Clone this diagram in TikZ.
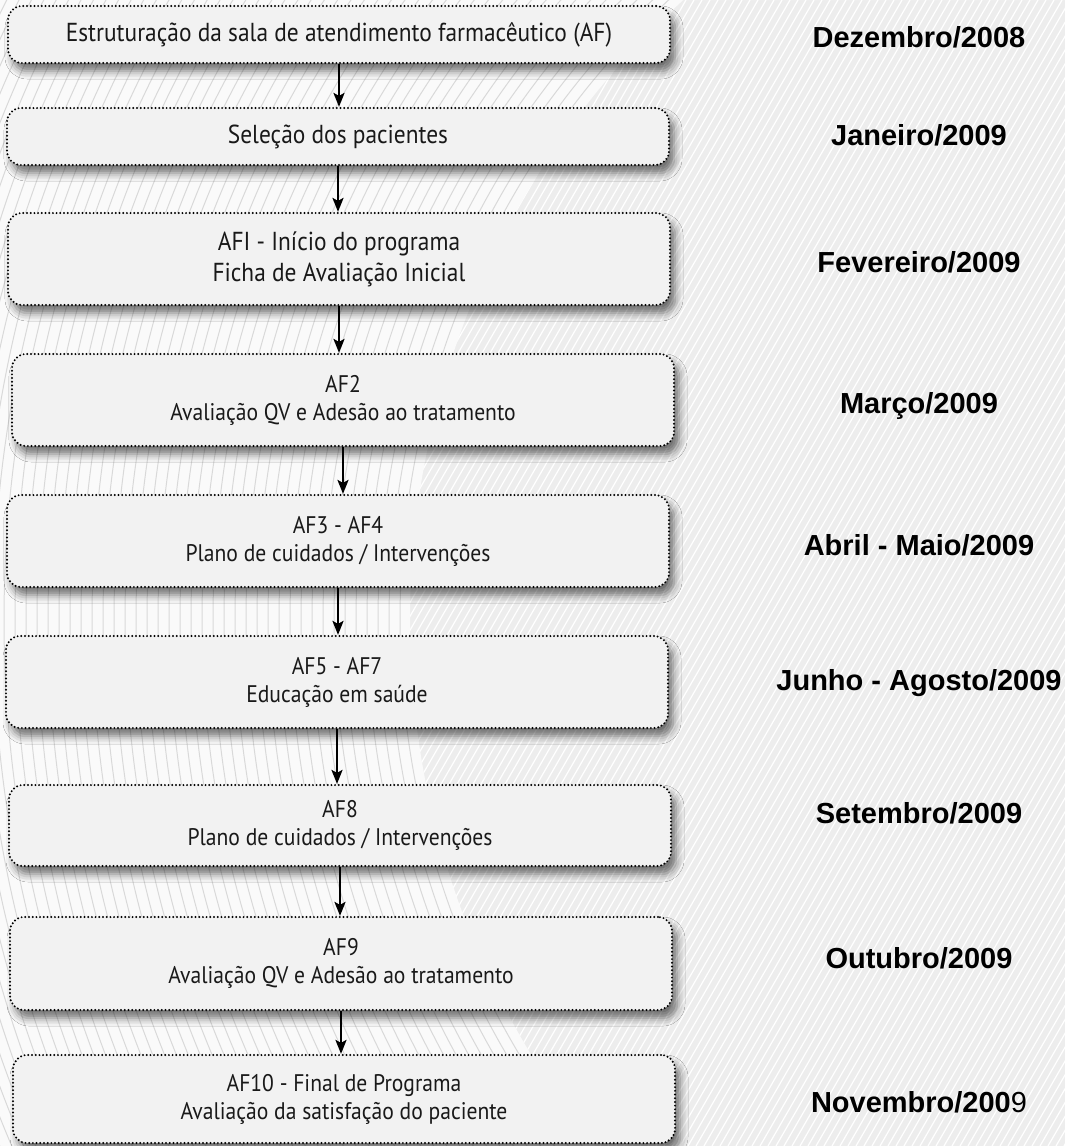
\documentclass[tikz,border=0pt]{standalone}
\usepackage{fontspec}
\setmainfont{PT Sans}[FakeStretch=0.9]
\newfontfamily\datefont{Liberation Sans}
\usetikzlibrary{arrows.meta,shadows.blur,positioning}
\definecolor{boxgray}{HTML}{F2F2F2}
\definecolor{bggray}{HTML}{EDEDED}
\tikzset{
  stage/.style={draw=black,line width=2.2pt,dash pattern=on 0pt off 3.7pt,line cap=round,
    rounded corners=14pt,fill=boxgray,minimum width=662pt,align=center,text=black!90,
    font=\fontsize{26}{31}\selectfont,
    blur shadow={shadow xshift=5pt,shadow yshift=-8pt,shadow blur radius=8pt,shadow opacity=55}},
  later/.style={font=\fontsize{24}{28}\selectfont},
  month/.style={font=\datefont\bfseries\fontsize{29}{34}\selectfont,anchor=base},
  flow/.style={-{Stealth[length=14pt,width=11pt,inset=3pt]},line width=2.3pt},
  stripe/.style={white,line width=1.2pt},
  ring/.style={gray!30,line width=1pt}
}

\begin{document}
\begin{tikzpicture}[x=1pt,y=-1pt]
\useasboundingbox (0,0) rectangle (1065,1146);
\fill[bggray] (0,0) rectangle (1065,1146);
\foreach \k in {-664,-656,...,1065}
  \draw[stripe] (\k,1146) -- (\k+662,0);
\begin{scope}[even odd rule]
  \clip (0,0) rectangle (1065,1146) (1250,620) circle (840);
  \fill[gray!4] (0,0) rectangle (1065,1146);
  \foreach \r in {850,861,...,1500}
    \draw[ring] (1250,620) circle (\r);
\end{scope}

\node[stage,minimum height=57pt] (s1) at (339,34.5) {Estruturação da sala de atendimento farmacêutico (AF)};
\node[stage,minimum height=57pt] (s2) at (338,136.5) {Seleção dos pacientes};
\node[stage,minimum height=92pt] (s3) at (339,259) {AFI - Início do programa\\Ficha de Avaliação Inicial};
\node[stage,later,minimum height=92pt] (s4) at (343,400) {AF2\\Avaliação QV e Adesão ao tratamento};
\node[stage,later,minimum height=92pt] (s5) at (338,541) {AF3 - AF4\\Plano de cuidados / Intervenções};
\node[stage,later,minimum height=92pt] (s6) at (337,682) {AF5 - AF7\\Educação em saúde};
\node[stage,later,minimum height=81pt] (s7) at (340,825.5) {AF8\\Plano de cuidados / Intervenções};
\node[stage,later,minimum height=93pt] (s8) at (341,963.5) {AF9\\Avaliação QV e Adesão ao tratamento};
\node[stage,later,minimum height=88pt] (s9) at (344,1099) {AF10 - Final de Programa\\Avaliação da satisfação do paciente};

\foreach \a/\b in {s1/s2,s2/s3,s3/s4,s4/s5,s5/s6,s6/s7,s7/s8,s8/s9}
  \draw[flow] (\a.south) -- (\a.south |- \b.north);

\node[month] (d1) at (919,47)   {Dezembro/2008};
\node[month] (d2) at (919,145)  {Janeiro/2009};
\node[month] (d3) at (919,272)  {Fevereiro/2009};
\node[month] (d4) at (919,413)  {Março/2009};
\node[month] (d5) at (919,555)  {Abril - Maio/2009};
\node[month] (d6) at (919,690)  {Junho - Agosto/2009};
\node[month] (d7) at (919,823)  {Setembro/2009};
\node[month] (d8) at (919,968)  {Outubro/2009};
\node[month] (d9) at (919,1112) {Novembro/200{\mdseries 9}};
\end{tikzpicture}
\end{document}
